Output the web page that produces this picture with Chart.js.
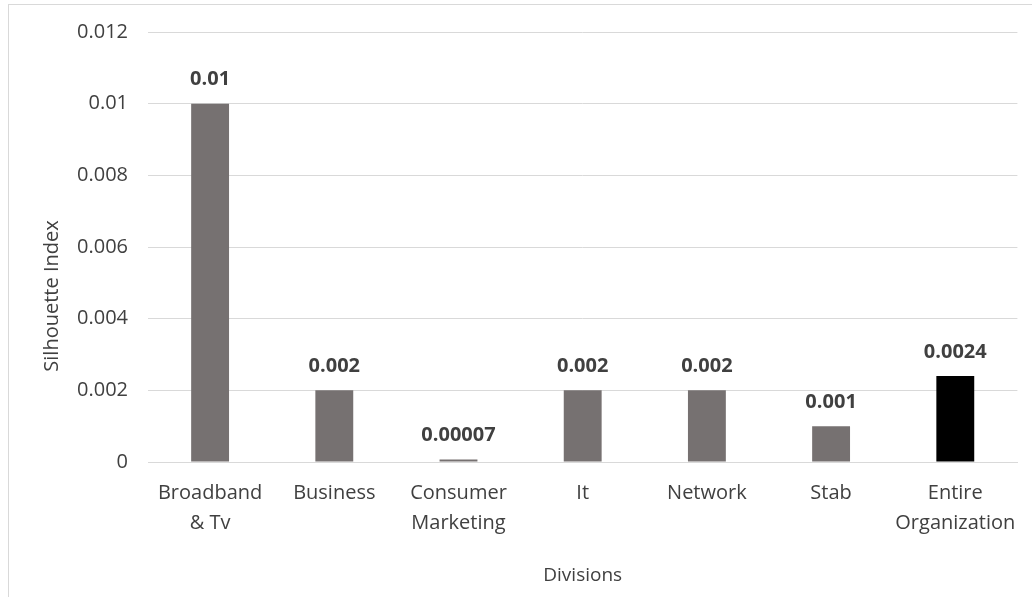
<!DOCTYPE html>
<html>
<head>
<meta charset="utf-8">
<title>Silhouette Index by Division</title>
<script src="https://cdn.jsdelivr.net/npm/chart.js@4.4.1/dist/chart.umd.min.js"></script>
<style>
  html, body { margin: 0; padding: 0; background: #fff; overflow: hidden; }
  .frame {
    position: absolute; left: 8px; top: 4px;
    width: 1100px; height: 700px;
    border: 1px solid #d9d9d9;
  }
  .wrap { position: absolute; left: 0; top: 0; width: 1032px; height: 597px; }
</style>
</head>
<body>
<div class="frame"></div>
<div class="wrap"><canvas id="chart"></canvas></div>
<script>
const divisions = [
  ['Broadband', '& Tv'],
  'Business',
  ['Consumer', 'Marketing'],
  'It',
  'Network',
  'Stab',
  ['Entire', 'Organization']
];
const silhouette = [0.01, 0.002, 0.00007, 0.002, 0.002, 0.001, 0.0024];
const yTicks = [0, 0.002, 0.004, 0.006, 0.008, 0.01, 0.012];

const GRAY = '#767171';
const TEXT = '#404040';
const FONT = "'Open Sans', 'Noto Sans', sans-serif";

// bar colours: the whole-organization bar is black
const barColors = divisions.map((d, i) => i === divisions.length - 1 ? '#000000' : GRAY);

// values printed above each bar
const valueLabels = {
  id: 'valueLabels',
  afterDatasetsDraw(chart) {
    const ctx = chart.ctx;
    const meta = chart.getDatasetMeta(0);
    ctx.save();
    ctx.font = "bold 20px " + FONT;
    ctx.fillStyle = '#404040';
    ctx.textAlign = 'center';
    ctx.textBaseline = 'middle';
    meta.data.forEach((bar, i) => {
      ctx.fillText(String(silhouette[i]), bar.x, bar.y - 24);
    });
    ctx.restore();
  }
};

// y axis title, sitting a bit below the middle of the axis
const yTitle = {
  id: 'yTitle',
  afterDraw(chart) {
    const ctx = chart.ctx;
    const area = chart.chartArea;
    ctx.save();
    ctx.translate(52, (area.top + area.bottom) / 2 + 49);
    ctx.rotate(-Math.PI / 2);
    ctx.font = "20px " + FONT;
    ctx.fillStyle = TEXT;
    ctx.textAlign = 'center';
    ctx.textBaseline = 'middle';
    ctx.fillText('Silhouette Index', 0, 0);
    ctx.restore();
  }
};

new Chart(document.getElementById('chart'), {
  type: 'bar',
  data: {
    labels: divisions,
    datasets: [{
      label: 'Silhouette Index',
      data: silhouette,
      backgroundColor: barColors,
      barPercentage: 0.305,
      categoryPercentage: 1.0
    }]
  },
  options: {
    responsive: true,
    maintainAspectRatio: false,
    animation: false,
    layout: { padding: { top: 30, right: 10, left: 0, bottom: 0 } },
    plugins: {
      legend: { display: false },
      tooltip: { enabled: false }
    },
    scales: {
      x: {
        grid: { display: false, drawTicks: false },
        border: { color: '#d9d9d9', width: 1 },
        ticks: {
          color: TEXT,
          font: { family: FONT, size: 20, lineHeight: 1.5 },
          padding: 16,
          maxRotation: 0,
          autoSkip: false
        },
        title: {
          display: true,
          text: 'Divisions',
          color: TEXT,
          font: { family: FONT, size: 19 },
          padding: { top: 0, bottom: 10 }
        },
        afterFit(scale) { scale.height = 135; }
      },
      y: {
        min: 0,
        max: 0.012,
        afterBuildTicks(scale) { scale.ticks = yTicks.map(v => ({ value: v })); },
        grid: { color: '#d9d9d9', drawTicks: false },
        border: { display: false },
        ticks: {
          color: TEXT,
          font: { family: FONT, size: 20 },
          padding: 20,
          callback: v => String(v)
        },
        afterFit(scale) { scale.width = 148; }
      }
    }
  },
  plugins: [valueLabels, yTitle]
});
</script>
</body>
</html>
